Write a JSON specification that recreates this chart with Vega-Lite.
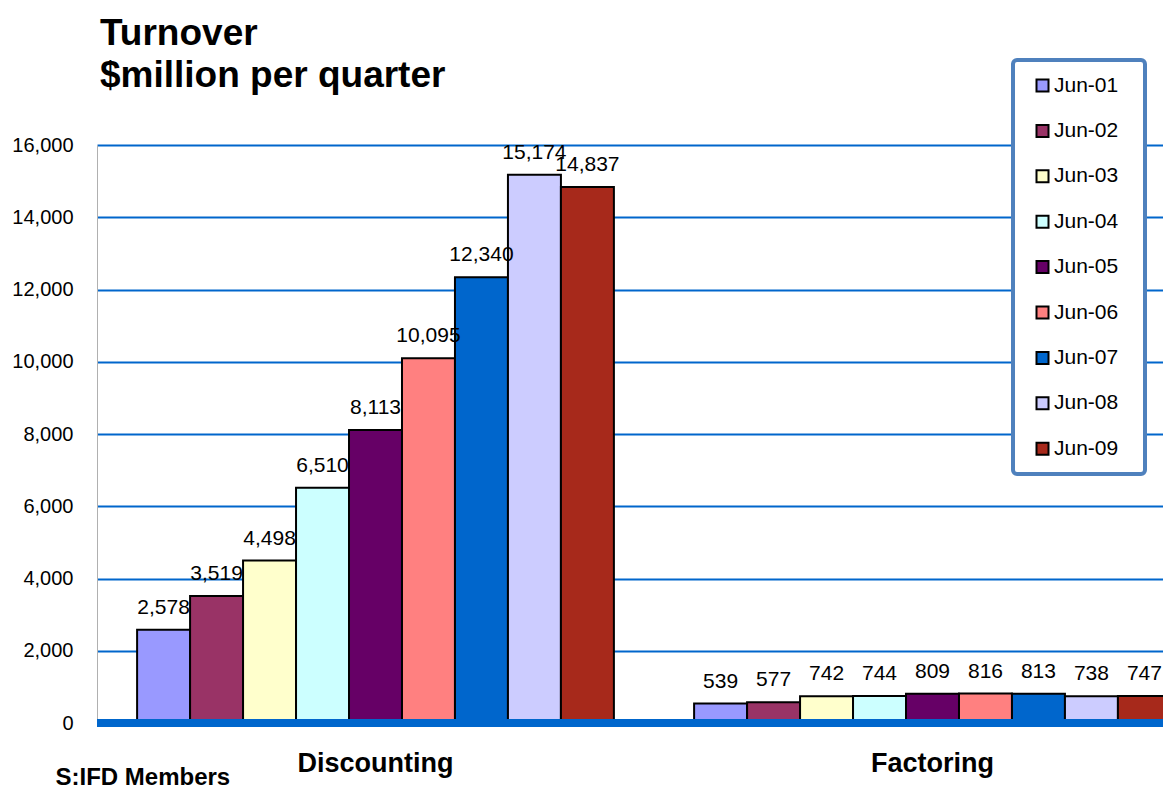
{
  "$schema": "https://vega.github.io/schema/vega-lite/v6.json",
  "width": 1066,
  "height": 578,
  "autosize": "none",
  "padding": {"left": 97, "top": 145, "right": 0, "bottom": 66},
  "background": "white",
  "title": {
    "text": ["Turnover", "$million per quarter"],
    "anchor": "start",
    "frame": "group",
    "font": "Liberation Sans",
    "fontSize": 37,
    "fontWeight": "bold",
    "color": "black",
    "lineHeight": 42,
    "offset": -37,
    "dx": 3
  },
  "config": {"view": {"stroke": null}},
  "data": {
    "values": [
      {"cat": "Discounting", "period": "Jun-01", "value": 2578},
      {"cat": "Discounting", "period": "Jun-02", "value": 3519},
      {"cat": "Discounting", "period": "Jun-03", "value": 4498},
      {"cat": "Discounting", "period": "Jun-04", "value": 6510},
      {"cat": "Discounting", "period": "Jun-05", "value": 8113},
      {"cat": "Discounting", "period": "Jun-06", "value": 10095},
      {"cat": "Discounting", "period": "Jun-07", "value": 12340},
      {"cat": "Discounting", "period": "Jun-08", "value": 15174},
      {"cat": "Discounting", "period": "Jun-09", "value": 14837},
      {"cat": "Factoring", "period": "Jun-01", "value": 539},
      {"cat": "Factoring", "period": "Jun-02", "value": 577},
      {"cat": "Factoring", "period": "Jun-03", "value": 742},
      {"cat": "Factoring", "period": "Jun-04", "value": 744},
      {"cat": "Factoring", "period": "Jun-05", "value": 809},
      {"cat": "Factoring", "period": "Jun-06", "value": 816},
      {"cat": "Factoring", "period": "Jun-07", "value": 813},
      {"cat": "Factoring", "period": "Jun-08", "value": 738},
      {"cat": "Factoring", "period": "Jun-09", "value": 747}
    ]
  },
  "layer": [
    {
      "mark": {"type": "bar", "stroke": "black", "strokeWidth": 2, "clip": true},
      "encoding": {
        "x": {
          "field": "cat", "type": "nominal", "sort": null,
          "scale": {"range": [0, 1114], "paddingInner": 0.144, "paddingOuter": 0.072},
          "axis": {
            "title": "S:IFD Members",
            "titleFont": "Liberation Sans",
            "titleFontSize": 24,
            "titleFontWeight": "bold",
            "titleColor": "black",
            "titleAnchor": "start",
            "titleAlign": "left",
            "titleBaseline": "alphabetic",
            "titleX": -42,
            "titleY": 61,
            "labelFont": "Liberation Sans",
            "labelFontSize": 27,
            "labelFontWeight": "bold",
            "labelColor": "black",
            "labelAngle": 0,
            "labelPadding": 27,
            "ticks": false,
            "domain": false,
            "grid": false
          }
        },
        "xOffset": {"field": "period", "type": "nominal", "sort": null, "scale": {"paddingInner": 0, "paddingOuter": 0}},
        "y": {
          "field": "value", "type": "quantitative",
          "scale": {"domain": [0, 16000], "nice": false},
          "axis": {
            "title": null,
            "values": [0, 2000, 4000, 6000, 8000, 10000, 12000, 14000, 16000],
            "format": ",d",
            "labelFont": "Liberation Sans",
            "labelFontSize": 20,
            "labelColor": "black",
            "labelPadding": 24,
            "ticks": false,
            "domain": true,
            "domainColor": "#b0b0b0",
            "domainWidth": 1,
            "grid": true,
            "gridColor": "#0066CC",
            "gridWidth": 2
          }
        },
        "color": {
          "field": "period", "type": "nominal", "sort": null,
          "scale": {
            "domain": ["Jun-01", "Jun-02", "Jun-03", "Jun-04", "Jun-05", "Jun-06", "Jun-07", "Jun-08", "Jun-09"],
            "range": ["#9999FF", "#993366", "#FFFFCC", "#CCFFFF", "#660066", "#FF8080", "#0066CC", "#CCCCFF", "#A7291B"]
          },
          "legend": {
            "title": " ",
            "titleOrient": "right",
            "titlePadding": 12,
            "titleFontSize": 1,
            "orient": "none",
            "legendX": 916,
            "legendY": -85,
            "padding": 15,
            "fillColor": "white",
            "strokeColor": "#4F81BD",
            "cornerRadius": 4,
            "symbolType": "square",
            "symbolSize": 144,
            "symbolStrokeColor": "black",
            "symbolStrokeWidth": 2,
            "symbolOffset": 4,
            "labelFont": "Liberation Sans",
            "labelFontSize": 21,
            "labelColor": "black",
            "labelOffset": 1,
            "rowPadding": 23.4,
            "encode": {"legend": {"update": {"strokeWidth": {"value": 4}}}}
          }
        }
      }
    },
    {
      "mark": {"type": "text", "baseline": "alphabetic", "dy": -16, "font": "Liberation Sans", "fontSize": 21, "color": "black", "clip": true},
      "encoding": {
        "x": {"field": "cat", "type": "nominal", "sort": null},
        "xOffset": {"field": "period", "type": "nominal", "sort": null},
        "y": {"field": "value", "type": "quantitative"},
        "text": {"field": "value", "type": "quantitative", "format": ",d"}
      }
    },
    {
      "mark": {"type": "rule", "color": "#0066CC", "strokeWidth": 7},
      "encoding": {
        "y": {"datum": 0}
      }
    }
  ]
}
